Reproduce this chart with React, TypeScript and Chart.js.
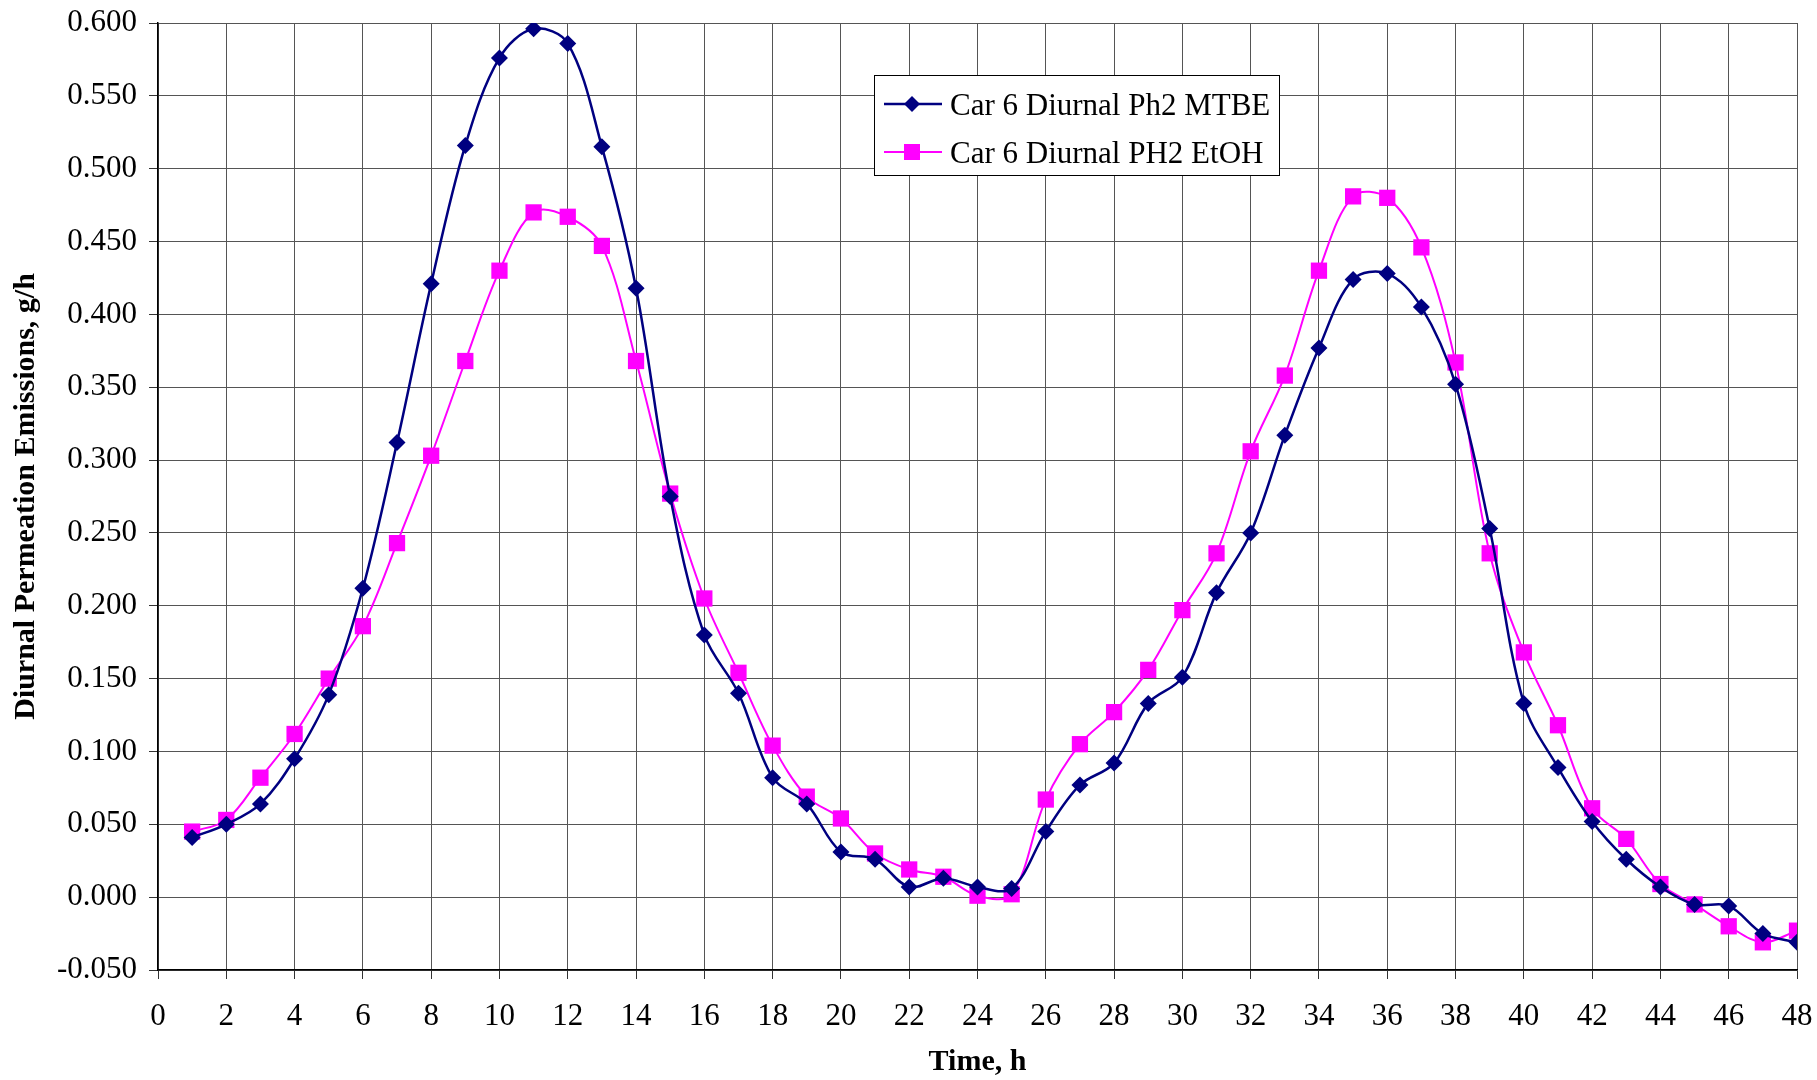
import React, { useEffect, useRef } from "react";
import { Chart, registerables } from "chart.js";

Chart.register(...registerables);

const hours = [1,2,3,4,5,6,7,8,9,10,11,12,13,14,15,16,17,18,19,20,21,22,23,24,25,26,27,28,29,30,31,32,33,34,35,36,37,38,39,40,41,42,43,44,45,46,47,48];

const mtbe = [0.041,0.050,0.064,0.095,0.139,0.212,0.312,0.421,0.516,0.576,0.596,0.586,0.515,0.418,0.275,0.180,0.140,0.082,0.064,0.031,0.026,0.007,0.013,0.007,0.006,0.045,0.077,0.092,0.133,0.151,0.209,0.250,0.317,0.377,0.424,0.428,0.405,0.352,0.253,0.133,0.089,0.052,0.026,0.007,-0.005,-0.006,-0.025,-0.031];

const etoh = [0.045,0.053,0.082,0.112,0.150,0.186,0.243,0.303,0.368,0.430,0.470,0.467,0.447,0.368,0.277,0.205,0.154,0.104,0.069,0.054,0.030,0.019,0.014,0.001,0.002,0.067,0.105,0.127,0.156,0.197,0.236,0.306,0.358,0.430,0.481,0.480,0.446,0.367,0.236,0.168,0.118,0.061,0.040,0.009,-0.005,-0.020,-0.031,-0.023];

const seriesLabels = ["Car 6 Diurnal Ph2 MTBE", "Car 6 Diurnal PH2 EtOH"];
const seriesColors = ["#000080", "#FF00FF"];

const FONT = "'Liberation Serif', 'Times New Roman', serif";

const boxLegend = {
  id: "boxLegend",
  afterDraw(chart: any) {
    const ctx = chart.ctx;
    const x0 = 874, y0 = 75, w = 405, h = 100;
    ctx.save();
    ctx.fillStyle = "#fff";
    ctx.fillRect(x0, y0, w, h);
    ctx.strokeStyle = "#000";
    ctx.lineWidth = 1;
    ctx.strokeRect(x0 + 0.5, y0 + 0.5, w, h);
    const rows = [104, 152];
    chart.data.datasets.forEach((ds: any, i: number) => {
      const y = rows[i];
      ctx.strokeStyle = ds.borderColor;
      ctx.lineWidth = ds.borderWidth;
      ctx.beginPath();
      ctx.moveTo(884, y);
      ctx.lineTo(942, y);
      ctx.stroke();
      ctx.fillStyle = ds.backgroundColor;
      ctx.beginPath();
      if (ds.pointStyle === "rectRot") {
        const r = 8;
        ctx.moveTo(912, y - r);
        ctx.lineTo(912 + r, y);
        ctx.lineTo(912, y + r);
        ctx.lineTo(912 - r, y);
        ctx.closePath();
      } else {
        ctx.rect(904, y - 8, 16, 16);
      }
      ctx.fill();
      ctx.fillStyle = "#000";
      ctx.font = `31px ${FONT}`;
      ctx.textBaseline = "middle";
      ctx.textAlign = "left";
      ctx.fillText(ds.label, 950, y + 3);
    });
    ctx.restore();
  },
};

export default function App() {
  const ref = useRef<HTMLCanvasElement>(null);
  useEffect(() => {
    if (!ref.current) return;
    const mk = (vals: number[]) => hours.map((h, i) => ({ x: h, y: vals[i] }));
    const chart = new Chart(ref.current, {
      type: "line",
      data: {
        datasets: [
          {
            label: seriesLabels[0],
            data: mk(mtbe),
            borderColor: seriesColors[0],
            backgroundColor: seriesColors[0],
            borderWidth: 2.5,
            pointStyle: "rectRot",
            pointRadius: 8.5,
            pointBorderWidth: 0,
            tension: 0.35,
          },
          {
            label: seriesLabels[1],
            data: mk(etoh),
            borderColor: seriesColors[1],
            backgroundColor: seriesColors[1],
            borderWidth: 2,
            pointStyle: "rect",
            pointRadius: 11.5,
            pointBorderWidth: 0,
            tension: 0.35,
          },
        ],
      },
      options: {
        animation: false,
        responsive: false,
        maintainAspectRatio: false,
        layout: { padding: { left: 0, top: 23, right: 20, bottom: 0 } },
        plugins: { legend: { display: false }, tooltip: { enabled: false } },
        scales: {
          x: {
            type: "linear",
            min: 0,
            max: 48,
            afterFit: (s: any) => { s.height = 110; s.paddingLeft = 0; s.paddingRight = 0; },
            ticks: { stepSize: 2, color: "#000", font: { family: FONT, size: 31 }, padding: 19, maxRotation: 0 },
            grid: { color: "#555", lineWidth: 1, tickLength: 9, tickColor: "#333" },
            border: { color: "#000", width: 1.5 },
            title: { display: true, text: "Time, h", color: "#000", font: { family: FONT, size: 30, weight: "bold" }, padding: { top: 0, bottom: 0 } },
          },
          y: {
            min: -0.05,
            max: 0.6,
            afterFit: (s: any) => { s.width = 158; s.paddingTop = 0; s.paddingBottom = 0; },
            ticks: { stepSize: 0.05, color: "#000", font: { family: FONT, size: 31 }, padding: 12, callback: (v: any) => Number(v).toFixed(3) },
            grid: { color: "#555", lineWidth: 1, tickLength: 9, tickColor: "#333" },
            border: { color: "#000", width: 1.5 },
            title: { display: true, text: "Diurnal Permeation Emissions, g/h", color: "#000", font: { family: FONT, size: 30, weight: "bold" }, padding: { top: 8, bottom: 0 } },
          },
        },
      },
      plugins: [boxLegend],
    });
    return () => chart.destroy();
  }, []);
  return (
    <div style={{ position: "fixed", left: 0, top: 0, width: 1817, height: 1080, background: "#fff" }}>
      <canvas ref={ref} width={1817} height={1080} style={{ width: 1817, height: 1080, display: "block" }} />
    </div>
  );
}
